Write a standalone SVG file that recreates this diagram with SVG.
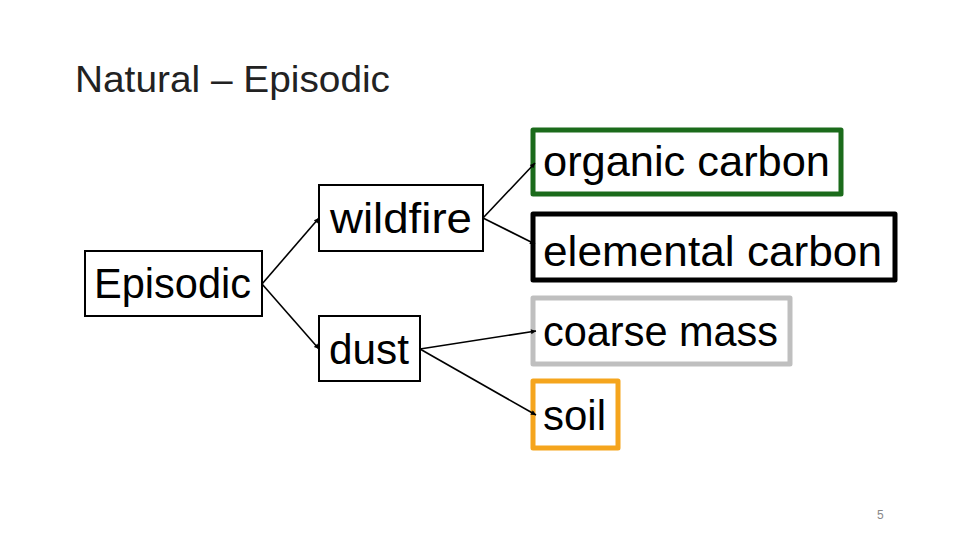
<svg xmlns="http://www.w3.org/2000/svg" width="960" height="540" viewBox="0 0 960 540">
<defs>
<marker id="ah" viewBox="0 0 10 10" refX="10" refY="5" markerWidth="8" markerHeight="5" markerUnits="userSpaceOnUse" orient="auto">
<path d="M0,0 L10,5 L0,10 z" fill="#000"/>
</marker>
<style>
.t{font-family:"Liberation Sans",Arial,sans-serif;font-size:42px;fill:#000}
.box{fill:#fff;stroke:#000;stroke-width:2}
.thick{fill:#fff;stroke-width:5;stroke-linejoin:round}
.c{stroke:#000;stroke-width:1.6;fill:none;marker-end:url(#ah)}
</style>
</defs>
<rect width="960" height="540" fill="#fff"/>
<text x="75" y="92" font-family="Liberation Sans,Arial,sans-serif" font-size="37" fill="#222" textLength="315" lengthAdjust="spacingAndGlyphs">Natural – Episodic</text>
<g id="episodic">
<rect class="box" x="85" y="251" width="177" height="65"/>
<text class="t" x="94" y="298" textLength="157" lengthAdjust="spacingAndGlyphs">Episodic</text>
</g>
<g id="wildfire">
<rect class="box" x="319" y="185" width="164" height="66"/>
<text class="t" x="330" y="233" textLength="142" lengthAdjust="spacingAndGlyphs">wildfire</text>
</g>
<g id="dust">
<rect class="box" x="319" y="316" width="101" height="65"/>
<text class="t" x="329" y="364" textLength="80" lengthAdjust="spacingAndGlyphs">dust</text>
</g>
<g id="organic-carbon">
<rect class="thick" x="533" y="130" width="308" height="64" stroke="#1b6b1b"/>
<text class="t" x="543" y="176" textLength="287" lengthAdjust="spacingAndGlyphs">organic carbon</text>
</g>
<g id="elemental-carbon">
<rect class="thick" x="533" y="214" width="362" height="66" stroke="#000"/>
<text class="t" x="543" y="266" textLength="339" lengthAdjust="spacingAndGlyphs">elemental carbon</text>
</g>
<g id="coarse-mass">
<rect class="thick" x="533" y="298" width="257" height="66" stroke="#bfbfbf"/>
<text class="t" x="543" y="346" textLength="235" lengthAdjust="spacingAndGlyphs">coarse mass</text>
</g>
<g id="soil">
<rect class="thick" x="533" y="381" width="85" height="67" stroke="#f5a51d"/>
<text class="t" x="543" y="430" textLength="63" lengthAdjust="spacingAndGlyphs">soil</text>
</g>
<g id="connectors">
<line class="c" x1="262" y1="284" x2="319" y2="218"/>
<line class="c" x1="262" y1="284" x2="319" y2="349"/>
<line class="c" x1="483" y1="218" x2="535" y2="163"/>
<line class="c" x1="483" y1="218" x2="535" y2="244"/>
<line class="c" x1="420" y1="349" x2="536" y2="331"/>
<line class="c" x1="420" y1="349" x2="536" y2="415"/>
</g>
<text x="877" y="519" font-family="Liberation Sans,Arial,sans-serif" font-size="12" fill="#888">5</text>
</svg>
